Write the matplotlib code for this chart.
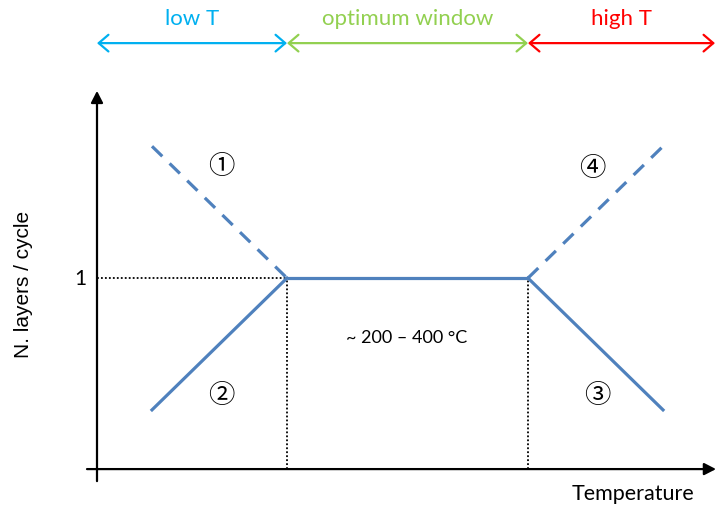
import matplotlib
matplotlib.use("Agg")
import matplotlib.pyplot as plt

# temperature in arbitrary units, growth window between the two edges
window = [190, 431]
low_x = [55, 190]
low_over = [1.69, 1.0]    # (1) dashed
low_under = [0.31, 1.0]   # (2)
high_x = [431, 566]
high_under = [1.0, 0.31]  # (3)
high_over = [1.0, 1.69]   # (4) dashed
plateau_y = [1.0, 1.0]

regions = ["low T", "optimum window", "high T"]
region_edges = [0, 190, 431, 618]
region_colors = ["#00B0F0", "#92D050", "#FF0000"]

circled = ["①", "②", "③", "④"]
circled_xy = [(124, 1.59), (124, 0.39), (500, 0.39), (495, 1.58)]

blue = "#4F81BD"
txt_font = "Lato"

fig = plt.figure(figsize=(7.16, 5.06), dpi=100)
ax = fig.add_axes([0, 0, 1, 1])
ax.set_xlim(-97, 619)
ax.set_ylim(-0.188, 2.461)
ax.axis("off")

# axes with arrow heads
ax.annotate("", xy=(0, 1.98), xytext=(0, -0.063),
            arrowprops=dict(arrowstyle="-|>,head_length=0.35,head_width=0.18",
                            color="black", lw=1.6, mutation_scale=20,
                            shrinkA=0, shrinkB=0))
ax.annotate("", xy=(619, 0), xytext=(-10, 0), annotation_clip=False,
            arrowprops=dict(arrowstyle="-|>,head_length=0.35,head_width=0.18",
                            color="black", lw=1.6, mutation_scale=20,
                            shrinkA=0, shrinkB=0))

# dotted guides
ax.plot([0, window[0]], [1, 1], color="black", lw=1.3, ls=(0, (1, 1.2)))
for w in window:
    ax.plot([w, w], [0, 1], color="black", lw=1.3, ls=(0, (1, 1.2)))

# curves
ax.plot(window, plateau_y, color=blue, lw=2.3, solid_capstyle="butt")
ax.plot(low_x, low_under, color=blue, lw=2.3)
ax.plot(high_x, high_under, color=blue, lw=2.3)
ax.plot(low_x, low_over, color=blue, lw=2.3, ls=(0, (4.5, 3.2)))
ax.plot(high_x, high_over, color=blue, lw=2.3, ls=(0, (4.5, 3.2)))

# top region arrows
for i, name in enumerate(regions):
    x0, x1 = region_edges[i], region_edges[i + 1]
    ax.annotate("", xy=(x1, 2.23), xytext=(x0, 2.23), annotation_clip=False,
                arrowprops=dict(arrowstyle="<->,head_length=0.35,head_width=0.3",
                                color=region_colors[i], lw=1.6,
                                mutation_scale=20, shrinkA=0, shrinkB=0))
    ax.text((x0 + x1) / 2, 2.36, name, color=region_colors[i], fontsize=16,
            family=txt_font, ha="center", va="center")

for label, (x, y) in zip(circled, circled_xy):
    ax.text(x, y, label, fontsize=19, ha="center", va="center",
            family=["Noto Sans CJK JP", "DejaVu Sans"])

ax.text(310, 0.69, "~ 200 – 400 °C", fontsize=13, family=txt_font,
        ha="center", va="center")
ax.text(-17, 1.0, "1", fontsize=15, family=txt_font, ha="center", va="center")
ax.text(-73, 0.97, "N. layers / cycle", fontsize=15, family="Liberation Sans",
        rotation=90, ha="center", va="center")
ax.text(536, -0.126, "Temperature", fontsize=15.5, family=txt_font,
        ha="center", va="center")

fig.savefig("out.png", dpi=100)
